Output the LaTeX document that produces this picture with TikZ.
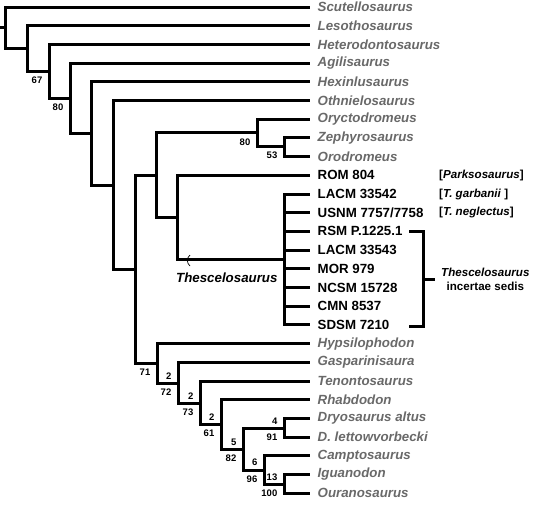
\documentclass[tikz,border=0pt]{standalone}
\usepackage{fontspec}
\setmainfont{Liberation Sans}
\usetikzlibrary{positioning}
\definecolor{taxgray}{RGB}{105,105,105}
\tikzset{
	branch/.style={line width=3pt, line join=miter},
	taxon/.style={inner sep=0pt, anchor=west, text=taxgray, font=\fontsize{13.3}{15}\selectfont\bfseries\itshape},
	specimen/.style={inner sep=0pt, anchor=west, font=\fontsize{13.3}{15}\selectfont\bfseries},
	boot/.style={inner sep=0pt, anchor=east, font=\fontsize{9.5}{11}\selectfont\bfseries},
	bracketlbl/.style={inner sep=0pt, anchor=west, font=\fontsize{11.6}{14}\selectfont\bfseries},
}
\begin{document}
\begin{tikzpicture}[x=1pt, y=-1pt]
		\useasboundingbox (0,0) rectangle (538,506);
		% tips
		\foreach \i in {0,...,26} \coordinate (t\i) at (310,{7+18.7*\i});
		\foreach \i/\txt in {0/Scutellosaurus, 1/Lesothosaurus, 2/Heterodontosaurus, 3/Agilisaurus, 4/Hexinlusaurus, 5/Othnielosaurus, 6/Oryctodromeus, 7/Zephyrosaurus, 8/Orodromeus, 18/Hypsilophodon, 19/Gasparinisaura, 20/Tenontosaurus, 21/Rhabdodon, 22/Dryosaurus altus, 23/D. lettowvorbecki, 24/Camptosaurus, 25/Iguanodon, 26/Ouranosaurus}
			\node[taxon, right=7.5pt of t\i] (l\i) {\txt};
		\foreach \i/\txt in {9/ROM 804, 10/LACM 33542, 11/USNM 7757\slash7758, 12/RSM P.1225.1, 13/LACM 33543, 14/MOR 979, 15/NCSM 15728, 16/CMN 8537, 17/SDSM 7210}
			\node[specimen, right=7.5pt of t\i] (l\i) {\txt};
		% internal nodes
		\coordinate (base) at (0,27.8);
		\coordinate (root) at (5,27.8);
		\coordinate (A) at (27,48.6);
		\coordinate (B) at (49,71.2);
		\coordinate (C) at (70,98.3);
		\coordinate (D) at (91,133.6);
		\coordinate (E) at (113,185.2);
		\coordinate (F) at (135,269.3);
		\coordinate (G) at (156,175);
		\coordinate (oryc) at (257,132.8);
		\coordinate (zeor) at (284,146.5);
		\coordinate (H) at (177,217.2);
		\coordinate (thes) at (284,259.5);
		\coordinate (I) at (157,363.6);
		\coordinate (J) at (178,383.2);
		\coordinate (K) at (200,403.4);
		\coordinate (L) at (221,424.7);
		\coordinate (M) at (243,449.4);
		\coordinate (dryo) at (284,428.5);
		\coordinate (O) at (264,470.2);
		\coordinate (P) at (284,484.5);
		% branches
		\draw[branch] (base) -- (root);
		\draw[branch] (root) |- (t0) (root) |- (A);
		\draw[branch] (A) |- (t1) (A) |- (B);
		\draw[branch] (B) |- (t2) (B) |- (C);
		\draw[branch] (C) |- (t3) (C) |- (D);
		\draw[branch] (D) |- (t4) (D) |- (E);
		\draw[branch] (E) |- (t5) (E) |- (F);
		\draw[branch] (F) |- (G) (F) |- (I);
		\draw[branch] (G) |- (oryc) (G) |- (H);
		\draw[branch] (oryc) |- (t6) (oryc) |- (zeor);
		\draw[branch] (zeor) |- (t7) (zeor) |- (t8);
		\draw[branch] (H) |- (t9) (H) |- (thes);
		\draw[branch] (thes) |- (t10) (thes) |- (t17);
		\foreach \i in {11,...,16} \draw[branch] (thes |- t\i) -- (t\i);
		\draw[branch] (I) |- (t18) (I) |- (J);
		\draw[branch] (J) |- (t19) (J) |- (K);
		\draw[branch] (K) |- (t20) (K) |- (L);
		\draw[branch] (L) |- (t21) (L) |- (M);
		\draw[branch] (M) |- (dryo) (M) |- (O);
		\draw[branch] (dryo) |- (t22) (dryo) |- (t23);
		\draw[branch] (O) |- (t24) (O) |- (P);
		\draw[branch] (P) |- (t25) (P) |- (t26);
		% support values
		\foreach \n/\v in {B/67, C/80, oryc/80, zeor/53, I/71, J/72, K/73, L/61, M/82, dryo/91, O/96, P/100}
			\node[boot] (bs\n) at ([shift={(-6.5,9)}]\n) {\v};
		\foreach \n/\v in {J/2, K/2, L/2, M/5, dryo/4, O/6, P/13}
			\node[boot] (br\n) at ([shift={(-6.5,-7.5)}]\n) {\v};
		% Thescelosaurus stem
		\draw[line width=0.7pt] (190,255) .. controls (186.5,258) and (186.5,263) .. (190,266);
		\node[specimen, font=\fontsize{13.3}{15}\selectfont\bfseries\itshape] (theslab) at (176,278) {Thescelosaurus};
		% names in brackets
		\node[bracketlbl] (pk) at ([xshift=129pt]t9) {[\textit{Parksosaurus}]};
		\node[bracketlbl] (tg) at ([xshift=129pt]t10) {[\textit{T. garbanii} ]};
		\node[bracketlbl] (tn) at ([xshift=129pt]t11) {[\textit{T. neglectus}]};
		% incertae sedis
		\coordinate (ibtop) at (409,231);
		\coordinate (ibbot) at (409,326);
		\coordinate (ibx) at (423,279);
		\coordinate (ibtick) at (435,279);
		\draw[branch] (ibtop) -| (ibx) |- (ibbot);
		\draw[branch] (ibx) -- (ibtick);
		\node[bracketlbl, align=center, right=6pt of ibtick] (incsed) {\textit{Thescelosaurus}\\incertae sedis};
	\end{tikzpicture}
\end{document}
